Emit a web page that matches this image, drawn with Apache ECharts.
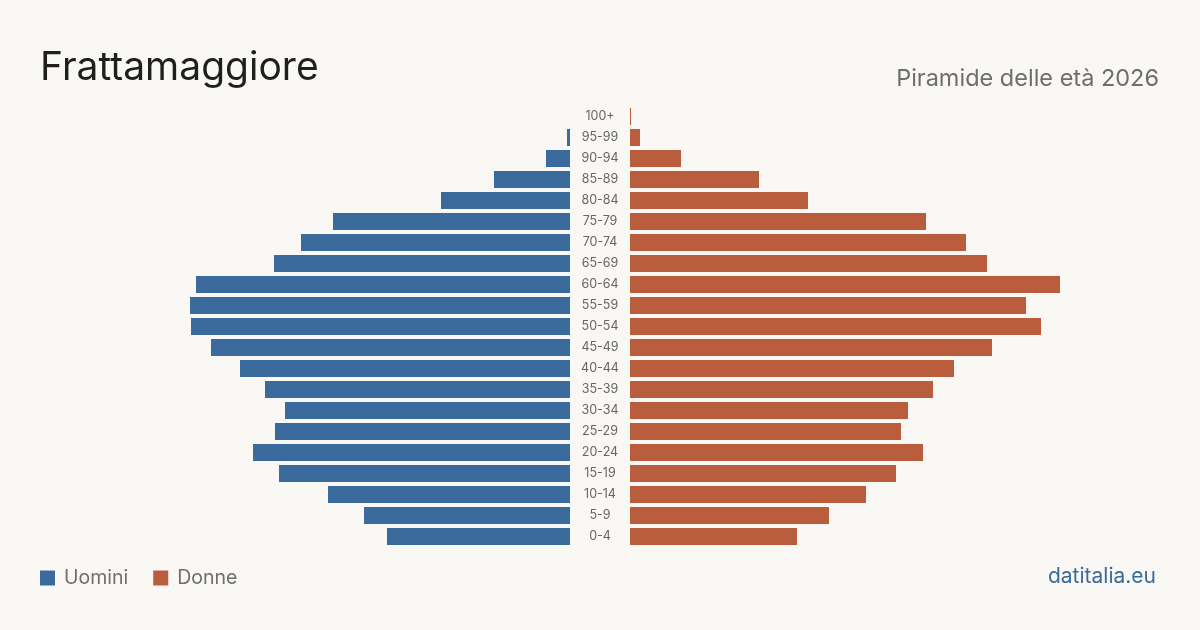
<!DOCTYPE html>
<html lang="it">
<head>
<meta charset="UTF-8">
<title>Frattamaggiore - Piramide delle età 2026</title>
<script src="https://cdn.jsdelivr.net/npm/echarts@6/dist/echarts.min.js"></script>
<style>
  html, body { margin: 0; padding: 0; background: #f9f8f4; }
  #chart { width: 1200px; height: 630px; }
</style>
</head>
<body>
<div id="chart"></div>
<script>
var ageGroups = ['0-4', '5-9', '10-14', '15-19', '20-24', '25-29', '30-34', '35-39', '40-44', '45-49',
  '50-54', '55-59', '60-64', '65-69', '70-74', '75-79', '80-84', '85-89', '90-94', '95-99', '100+'];

// stime
var uomini = [549, 618, 726, 873, 951, 885, 855, 915, 990, 1077,
  1137, 1140, 1122, 888, 807, 711, 387, 228, 72, 9, 0];
var donne = [501, 597, 708, 798, 879, 813, 834, 909, 972, 1086,
  1233, 1188, 1290, 1071, 1008, 888, 534, 387, 153, 30, 3];

var maxVal = 1290;
var blu = '#3b6b9c';
var rosso = '#b95d3c';

var chart = echarts.init(document.getElementById('chart'));
chart.setOption({
  backgroundColor: '#f9f8f4',
  textStyle: { fontFamily: 'Inter' },
  title: [{
    text: 'Frattamaggiore',
    left: 35, top: 44,
    textStyle: { fontSize: 39, fontWeight: 'normal', color: '#1f1f1f', fontFamily: 'Inter' }
  }, {
    text: 'Piramide delle età 2026',
    right: 36, top: 62,
    textStyle: { fontSize: 23.5, fontWeight: 'normal', color: '#6e6e6e', fontFamily: 'Inter' }
  }, {
    text: 'datitalia.eu',
    right: 39, top: 561,
    textStyle: { fontSize: 21, fontWeight: 'normal', color: '#3b6b9c', fontFamily: 'Inter' }
  }],
  legend: {
    left: 35, top: 563,
    itemWidth: 15, itemHeight: 15, itemGap: 25,
    icon: 'rect',
    textStyle: { fontSize: 19.5, color: '#6e6e6e', fontFamily: 'Inter', padding: [0, 0, 0, 4] },
    data: ['Uomini', 'Donne']
  },
  grid: [
    { left: 140, width: 430, top: 106, height: 441 },
    { left: 630, width: 430, top: 106, height: 441 }
  ],
  xAxis: [
    { gridIndex: 0, type: 'value', inverse: true, min: 0, max: maxVal, show: false },
    { gridIndex: 1, type: 'value', min: 0, max: maxVal, show: false }
  ],
  yAxis: [
    {
      gridIndex: 0, type: 'category', data: ageGroups, position: 'right',
      axisLine: { show: false }, axisTick: { show: false },
      axisLabel: { align: 'center', margin: 30, fontSize: 12.5, color: '#666', fontFamily: 'Inter', padding: [2, 0, 0, 0] }
    },
    {
      gridIndex: 1, type: 'category', data: ageGroups,
      axisLine: { show: false }, axisTick: { show: false }, axisLabel: { show: false }
    }
  ],
  series: [
    {
      name: 'Uomini', type: 'bar', xAxisIndex: 0, yAxisIndex: 0,
      data: uomini, barWidth: 17, itemStyle: { color: blu }, silent: true
    },
    {
      name: 'Donne', type: 'bar', xAxisIndex: 1, yAxisIndex: 1,
      data: donne, barWidth: 17, itemStyle: { color: rosso }, silent: true
    }
  ]
});
</script>
</body>
</html>
